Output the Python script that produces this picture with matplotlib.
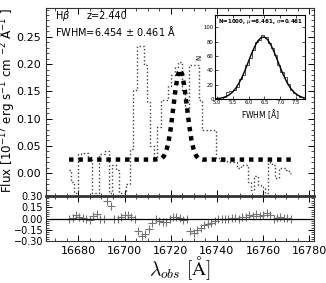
import numpy as np
import matplotlib
matplotlib.use('Agg')
import matplotlib.pyplot as plt
from matplotlib.ticker import AutoMinorLocator

plt.rcParams['mathtext.fontset'] = 'dejavusans'

# espectro observado (paso de 1.5 A)
wave = np.arange(16676.0, 16772.1, 1.5)
flux = [0.005, -0.016, -0.037, 0.035, 0.037, 0.037, 0.03, -0.037, -0.037, 0.035,
        0.035, 0.04, -0.037, 0.015, 0.005, -0.037, -0.037, -0.02, 0.045, 0.152,
        0.234, 0.234, 0.198, 0.13, 0.05, 0.03, 0.085, 0.134, 0.134, 0.16,
        0.18, 0.195, 0.203, 0.15, 0.12, 0.198, 0.198, 0.198, 0.134, 0.08,
        0.08, 0.079, 0.079, 0.027, 0.022, 0.022, 0.02, 0.02, 0.02, 0.01,
        0.015, 0.015, -0.016, -0.03, -0.005, -0.022, -0.025, -0.037, 0.02, 0.015,
        -0.009, 0.01, 0.01, 0.005, 0.0]
resid = [0.00, 0.01, 0.05, 0.02, 0.01, -0.01, -0.02, 0.03, 0.06, 0.00,
         -0.01, 0.23, 0.17, 0.00, 0.00, 0.02, 0.05, 0.05, 0.02, -0.01,
         -0.16, -0.23, -0.20, -0.14, -0.06, -0.01, -0.03, -0.05, -0.04, 0.00,
         0.02, 0.02, 0.01, -0.02, 0.00, -0.17, -0.19, -0.15, -0.12, -0.09,
         -0.07, -0.06, -0.03, -0.01, 0.00, 0.00, 0.00, 0.01, 0.01, 0.00,
         0.02, 0.02, 0.05, 0.03, 0.06, 0.04, 0.05, 0.07, 0.05, -0.01,
         0.01, 0.02, 0.01, 0.01, 0.00]

# modelo gaussiano
model_wave = [16676, 16712, 16713, 16714, 16715, 16716, 16717, 16718, 16719, 16720,
              16721, 16722, 16723, 16724, 16725, 16726, 16727, 16728, 16729, 16730,
              16731, 16732, 16733, 16734, 16735, 16736, 16737, 16773]
model_flux = [0.025, 0.025, 0.025, 0.0255, 0.026, 0.027, 0.031, 0.040, 0.056, 0.082,
              0.116, 0.151, 0.179, 0.190, 0.181, 0.156, 0.122, 0.088, 0.060, 0.042,
              0.032, 0.027, 0.026, 0.025, 0.025, 0.025, 0.025, 0.025]

# histograma del FWHM
hist_edges = np.arange(5.2, 7.71, 0.1)
hist_counts = [3, 10, 11, 13, 17, 28, 34, 48, 57, 68, 80, 82, 89, 87, 78,
               71, 62, 48, 38, 30, 21, 12, 9, 5, 3]
gx = np.arange(5.0, 7.81, 0.1)
gy = [0.6, 1.1, 2.0, 3.6, 6.1, 9.9, 15.2, 22.2, 30.9, 41.2, 52.5, 63.8, 73.6, 81.4,
      85.7, 86.2, 82.7, 75.6, 65.9, 55.0, 43.7, 33.1, 24.0, 16.5, 10.8, 6.8, 4.1, 2.3, 1.3]

fig = plt.figure(figsize=(3.26, 2.83), dpi=100)
ax = fig.add_axes([0.141, 0.307, 0.822, 0.665])
axr = fig.add_axes([0.141, 0.148, 0.822, 0.159], sharex=ax)

ax.plot(wave, flux, ls=':', color='0.25', lw=1, drawstyle='steps-mid')
ax.plot(model_wave, model_flux, color='k', lw=3.2, ls=(0, (1, 1.1)))
ax.set_xlim(16666, 16782)
ax.set_ylim(-0.042, 0.303)
ax.set_yticks([0.0, 0.05, 0.10, 0.15, 0.20, 0.25])
ax.set_ylabel(r'Flux [10$^{-17}$ erg s$^{-1}$ cm $^{-2}$ $\mathrm{\AA}^{-1}$ ]', fontsize=8.6, labelpad=3)
ax.yaxis.set_label_coords(-0.11, 0.51)
ax.text(0.035, 0.955, r'H$\beta$', transform=ax.transAxes, fontsize=7, va='center')
ax.text(0.15, 0.955, 'z=2.440', transform=ax.transAxes, fontsize=7, va='center')
ax.text(0.035, 0.88, r'FWHM=6.454 $\pm$ 0.461 $\mathrm{\AA}$', transform=ax.transAxes,
        fontsize=7, va='center')
plt.setp(ax.get_xticklabels(), visible=False)

axr.plot(wave, resid, ls='none', marker='+', color='0.45', ms=6, mew=0.8)
axr.axhline(0, color='k', lw=0.9)
axr.set_ylim(-0.30, 0.30)
axr.set_yticks([-0.30, -0.15, 0.0, 0.15, 0.30])
axr.set_xticks([16680, 16700, 16720, 16740, 16760, 16780])
axr.set_xlabel(r'$\lambda_{obs}\ [\mathrm{\AA}]$', fontsize=14, labelpad=-1, math_fontfamily='cm')
axr.spines['top'].set_linewidth(2)

for a in (ax, axr):
    a.tick_params(direction='in', top=True, right=True, labelsize=8, length=4, width=0.7)
    a.tick_params(which='minor', direction='in', top=True, right=True, length=2, width=0.5)
    a.xaxis.set_minor_locator(AutoMinorLocator(4))
    a.yaxis.set_minor_locator(AutoMinorLocator(5))
    for s in a.spines.values():
        s.set_color('0.2')
axr.tick_params(axis='y', labelsize=7, pad=2)

# inset
axi = fig.add_axes([0.66, 0.65, 0.276, 0.297])
axi.stairs(hist_counts, hist_edges, color='0.3', lw=0.7)
axi.plot(gx, gy, color='k', lw=1)
axi.set_xlim(4.95, 7.78)
axi.set_ylim(0, 117)
axi.set_xticks([5.0, 5.5, 6.0, 6.5, 7.0, 7.5])
axi.set_yticks([0, 20, 40, 60, 80, 100])
axi.tick_params(direction='in', top=True, right=True, labelsize=3.8, length=2, width=0.5, pad=1)
axi.set_xlabel(r'FWHM [$\mathrm{\AA}$]', fontsize=5.5, labelpad=1)
axi.set_ylabel('N', fontsize=5, labelpad=1)
axi.text(0.5, 0.92, r'N=1000, $\mu$=6.461, $\sigma$=0.461', transform=axi.transAxes,
         ha='center', va='center', fontsize=4, fontweight='bold')

fig.savefig('out.png', dpi=100)
